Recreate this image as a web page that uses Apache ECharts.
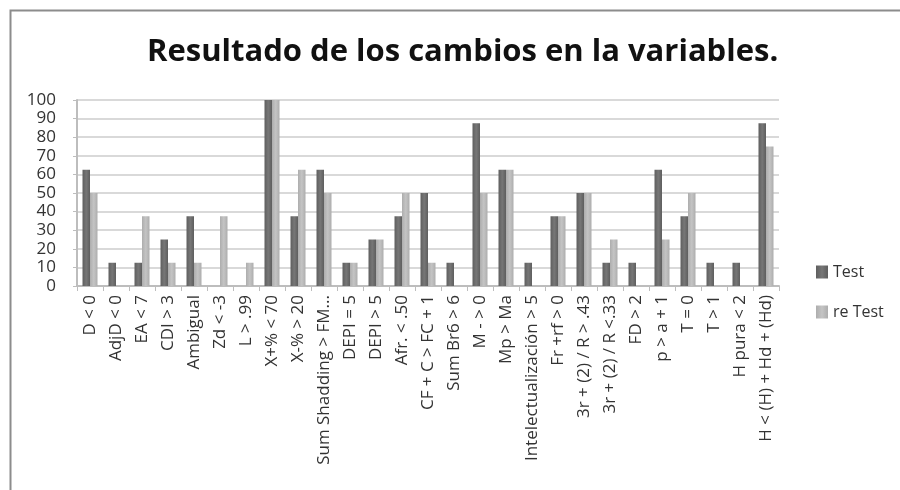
<!DOCTYPE html>
<html>
<head>
<meta charset="utf-8">
<script src="https://cdn.jsdelivr.net/npm/echarts@6/dist/echarts.min.js"></script>
<style>html,body{margin:0;padding:0;background:#fff;}#c{width:900px;height:490px;}</style>
</head>
<body>
<div id="c"></div>
<script>
const categories = ["D < 0","AdjD < 0","EA < 7","CDI > 3","Ambigual","Zd < -3","L > .99","X+% < 70","X-% > 20","Sum Shadding > FM...","DEPI = 5","DEPI > 5","Afr. < .50","CF + C > FC + 1","Sum Br6 > 6","M - > 0","Mp > Ma","Intelectualización > 5","Fr +rf > 0","3r + (2) / R > .43","3r + (2) / R <.33","FD > 2","p > a + 1","T = 0","T > 1","H pura < 2","H < (H) + Hd + (Hd)"];
const testValues = [62.5,12.5,12.5,25,37.5,0,0,100,37.5,62.5,12.5,25,37.5,50,12.5,87.5,62.5,12.5,37.5,50,12.5,12.5,62.5,37.5,12.5,12.5,87.5];
const reTestValues = [50,0,37.5,12.5,12.5,37.5,12.5,100,62.5,50,12.5,25,50,12.5,0,50,62.5,0,37.5,50,25,0,25,50,0,0,75];
const yTicks = {min:0, max:100, interval:10};
const titleText = "Resultado de los cambios en la variables.";

const chart = echarts.init(document.getElementById('c'), null, {renderer:'canvas'});
const font = "'Open Sans', sans-serif";
function grad(c1, c2){
  return new echarts.graphic.LinearGradient(0,0,1,0,[{offset:0,color:c1},{offset:0.5,color:c2},{offset:1,color:c1}]);
}
chart.setOption({
  animation:false,
  backgroundColor:'#fff',
  graphic:[{type:'rect', shape:{x:10.5,y:10.5,width:900,height:490}, style:{fill:'none', stroke:'#8c8c8c', lineWidth:2}, z:-1}],
  title:{text:titleText, left:142, top:32, textStyle:{fontFamily:font, fontWeight:'bold', fontSize:31, color:'#111'}},
  legend:{orient:'vertical', left:811, top:259, itemWidth:12, itemHeight:13, itemGap:24,
    textStyle:{fontFamily:font, fontSize:16, color:'#333'}, icon:'rect',
    data:['Test','re Test']},
  grid:{left:77, right:121, top:100, bottom:204, containLabel:false},
  xAxis:{type:'category', data:categories,
    axisLine:{lineStyle:{color:'#bdbdbd', width:2}},
    axisTick:{show:true, length:5, lineStyle:{color:'#bdbdbd'}},
    axisLabel:{rotate:90, interval:0, fontFamily:font, fontSize:17, color:'#333', margin:9}},
  yAxis:{type:'value', min:yTicks.min, max:yTicks.max, interval:yTicks.interval,
    axisLine:{show:true, lineStyle:{color:'#bdbdbd', width:2}},
    axisTick:{show:true, length:4, lineStyle:{color:'#bdbdbd'}},
    splitLine:{lineStyle:{color:'#d9d9d9', width:2}},
    axisLabel:{fontFamily:font, fontSize:17, color:'#333', margin:21, lineHeight:17}},
  series:[
    {name:'Test', type:'bar', data:testValues, barWidth:7.5, barGap:'0%',
      itemStyle:{color:grad('#5e5e5e','#777777')}},
    {name:'re Test', type:'bar', data:reTestValues, barWidth:7.5, barGap:'0%',
      itemStyle:{color:grad('#adadad','#c4c4c4')}}
  ]
});
</script>
</body>
</html>
